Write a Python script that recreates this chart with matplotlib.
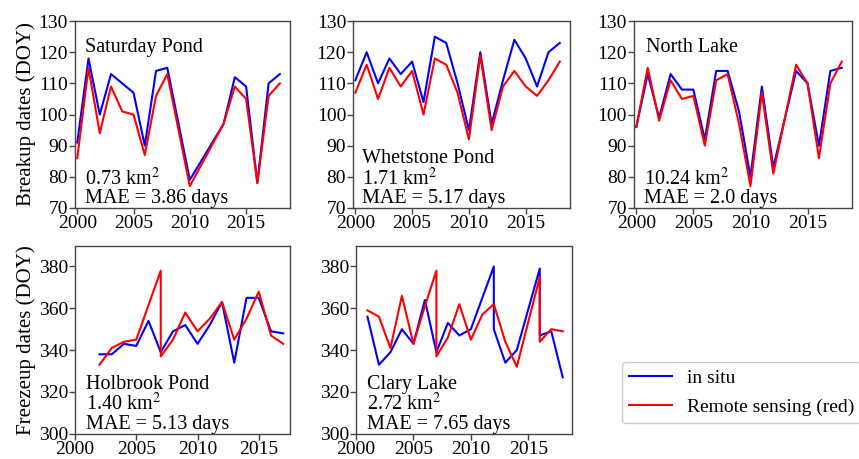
import numpy as np
import matplotlib
matplotlib.use("Agg")
import matplotlib.pyplot as plt
from matplotlib.lines import Line2D

plt.rcParams["font.family"] = ["Liberation Serif", "DejaVu Serif"]
plt.rcParams["mathtext.fontset"] = "stix"

# --- breakup dates (DOY) ---
sat_years_insitu = [2000, 2001, 2002, 2003, 2004, 2005, 2006, 2007, 2008, 2010, 2013, 2014, 2015, 2016, 2017, 2018]
sat_insitu = [91, 118, 100, 113, 110, 107, 90, 114, 115, 79, 97, 112, 109, 78, 110, 113]
sat_years_rs = [2000, 2001, 2002, 2003, 2004, 2005, 2006, 2007, 2008, 2010, 2013, 2014, 2015, 2016, 2017, 2018]
sat_rs = [86, 115, 94, 109, 101, 100, 87, 106, 113, 77, 97, 109, 105, 78, 106, 110]

whe_years = [2000, 2001, 2002, 2003, 2004, 2005, 2006, 2007, 2008, 2009, 2010, 2011, 2012, 2013, 2014, 2015, 2016, 2017, 2018]
whe_insitu = [111, 120, 110, 118, 113, 117, 104, 125, 123, 110, 95, 120, 97, 111, 124, 118, 109, 120, 123]
whe_rs = [107, 116, 105, 115, 109, 114, 100, 118, 116, 107, 92, 119, 95, 109, 114, 109, 106, 111, 117]

nor_years = [2000, 2001, 2002, 2003, 2004, 2005, 2006, 2007, 2008, 2009, 2010, 2011, 2012, 2014, 2015, 2016, 2017, 2018]
nor_insitu = [96, 113, 99, 113, 108, 108, 92, 114, 114, 101, 80, 109, 83, 114, 110, 90, 114, 115]
nor_rs = [96, 115, 98, 111, 105, 106, 90, 111, 113, 97, 77, 107, 81, 116, 110, 86, 110, 117]

# --- freezeup dates (DOY) ---
hol_years_insitu = [2002, 2003, 2004, 2005, 2006, 2007, 2008, 2009, 2010, 2011, 2012, 2013, 2014, 2015, 2016, 2017]
hol_insitu = [338, 338, 343, 342, 354, 339, 349, 352, 343, 352, 363, 334, 365, 365, 349, 348]
hol_years_rs = [2002, 2003, 2004, 2005, 2007, 2007, 2008, 2009, 2010, 2011, 2012, 2013, 2014, 2015, 2016, 2017]
hol_rs = [333, 341, 344, 345, 378, 337, 345, 358, 349, 355, 363, 345, 355, 368, 347, 343]

cla_years_insitu = [2001, 2002, 2003, 2004, 2005, 2006, 2007, 2008, 2009, 2010, 2011, 2012, 2012, 2013, 2014, 2016, 2016, 2017, 2018]
cla_insitu = [356, 333, 339, 350, 343, 364, 339, 353, 347, 350, 365, 380, 350, 334, 340, 379, 347, 349, 327]
cla_years_rs = [2001, 2002, 2003, 2004, 2005, 2006, 2007, 2007, 2008, 2009, 2010, 2011, 2012, 2013, 2014, 2016, 2016, 2017, 2018]
cla_rs = [359, 356, 341, 366, 343, 361, 378, 337, 346, 362, 345, 357, 362, 344, 332, 375, 344, 350, 349]

BLUE = "#0000ff"
RED = "#ff0000"
TICK_FS = 14
TEXT_FS = 14.5

fig = plt.figure(figsize=(8.59, 4.59), dpi=100)

def make_ax(rect):
    ax = fig.add_axes(rect)
    for s in ax.spines.values():
        s.set_color("#444444")
        s.set_linewidth(1.0)
    ax.tick_params(direction="out", length=4, width=1, labelsize=TICK_FS,
                   top=False, right=False, color="#444444", pad=1.0)
    return ax

top_b, top_h = 0.547, 0.407
bot_b, bot_h = 0.055, 0.410

panels_top = [
    ([0.0873, top_b, 0.2503, top_h], sat_years_insitu, sat_insitu, sat_years_rs, sat_rs),
    ([0.4110, top_b, 0.2526, top_h], whe_years, whe_insitu, whe_years, whe_rs),
    ([0.7381, top_b, 0.2538, top_h], nor_years, nor_insitu, nor_years, nor_rs),
]
top_axes = []
for rect, xi, yi, xr, yr in panels_top:
    ax = make_ax(rect)
    ax.plot(xi, yi, color=BLUE, lw=1.5)
    ax.plot(xr, yr, color=RED, lw=1.5)
    ax.set_xlim(1999.8, 2018.9)
    ax.set_ylim(70, 130)
    ax.set_yticks(np.arange(70, 131, 10))
    ax.set_xticks([2000, 2005, 2010, 2015])
    top_axes.append(ax)

ax1, ax2, ax3 = top_axes
ax1.set_ylabel("Breakup dates (DOY)", fontsize=15, labelpad=2)
ax1.text(0.045, 0.86, "Saturday Pond", transform=ax1.transAxes, fontsize=TEXT_FS, va="center")
ax1.text(0.045, 0.0, "0.73 km$^2$\nMAE = 3.86 days", transform=ax1.transAxes,
         fontsize=TEXT_FS, va="bottom", linespacing=0.95)
ax2.text(0.04, 0.0, "Whetstone Pond\n1.71 km$^2$\nMAE = 5.17 days", transform=ax2.transAxes,
         fontsize=TEXT_FS, va="bottom", linespacing=0.95)
ax3.text(0.055, 0.86, "North Lake", transform=ax3.transAxes, fontsize=TEXT_FS, va="center")
ax3.text(0.045, 0.0, "10.24 km$^2$\nMAE = 2.0 days", transform=ax3.transAxes,
         fontsize=TEXT_FS, va="bottom", linespacing=0.95)

ax4 = make_ax([0.0873, bot_b, 0.2503, bot_h])
ax4.plot(hol_years_insitu, hol_insitu, color=BLUE, lw=1.5)
ax4.plot(hol_years_rs, hol_rs, color=RED, lw=1.5)
ax4.set_xlim(2000, 2017.55)
ax4.set_ylim(300, 390)
ax4.set_yticks(np.arange(300, 381, 20))
ax4.set_xticks([2000, 2005, 2010, 2015])
ax4.set_ylabel("Freezeup dates (DOY)", fontsize=15, labelpad=2)
ax4.text(0.05, 0.0, "Holbrook Pond\n1.40 km$^2$\nMAE = 5.13 days", transform=ax4.transAxes,
         fontsize=TEXT_FS, va="bottom", linespacing=0.95)

ax5 = make_ax([0.4144, bot_b, 0.2514, bot_h])
ax5.plot(cla_years_insitu, cla_insitu, color=BLUE, lw=1.5)
ax5.plot(cla_years_rs, cla_rs, color=RED, lw=1.5)
ax5.set_xlim(2000, 2018.8)
ax5.set_ylim(300, 390)
ax5.set_yticks(np.arange(300, 381, 20))
ax5.set_xticks([2000, 2005, 2010, 2015])
ax5.text(0.05, 0.0, "Clary Lake\n2.72 km$^2$\nMAE = 7.65 days", transform=ax5.transAxes,
         fontsize=TEXT_FS, va="bottom", linespacing=0.95)

handles = [Line2D([], [], color=BLUE, lw=1.5), Line2D([], [], color=RED, lw=1.5)]
fig.legend(handles, ["in situ", "Remote sensing (red)"], loc="upper left",
           bbox_to_anchor=(0.7245, 0.211), borderaxespad=0, fontsize=14,
           handlelength=2.2, handletextpad=0.75, borderpad=0.35, labelspacing=0.6,
           framealpha=1, edgecolor="#cccccc", fancybox=True)

fig.savefig("out.png", dpi=100)
